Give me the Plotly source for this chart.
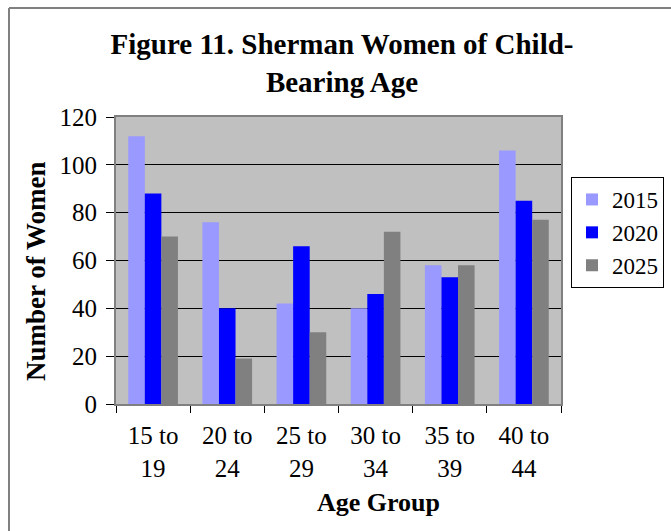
import plotly.graph_objects as go

# Age groups and projected counts of women per group
age_groups = ["15 to 19", "20 to 24", "25 to 29", "30 to 34", "35 to 39", "40 to 44"]
age_labels = ["15 to<br>19", "20 to<br>24", "25 to<br>29", "30 to<br>34", "35 to<br>39", "40 to<br>44"]
women_2015 = [112, 76, 42, 40, 58, 106]
women_2020 = [88, 40, 66, 46, 53, 85]
women_2025 = [70, 19, 30, 72, 58, 77]
y_ticks = [0, 20, 40, 60, 80, 100, 120]

W, H = 671, 531
L, R, T, B = 116, 110, 117, 127
pw, ph = W - L - R, H - T - B

FONT = "Liberation Serif"

def px_x(x):
    return (x - L) / pw

def px_y(y):
    return (H - B - y) / ph

fig = go.Figure()
for name, vals, color in [
    ("2015", women_2015, "#9999FF"),
    ("2020", women_2020, "#0000FF"),
    ("2025", women_2025, "#808080"),
]:
    fig.add_trace(go.Bar(x=age_groups, y=vals, name=name,
                         marker=dict(color=color, line=dict(width=0))))

fig.update_layout(
    width=W, height=H,
    margin=dict(l=L, r=R, t=T, b=B, autoexpand=False),
    paper_bgcolor="white",
    plot_bgcolor="#C0C0C0",
    barmode="group",
    bargap=0.33,
    bargroupgap=0,
    font=dict(family=FONT, color="black", size=24),
    title=dict(
        text="<b>Figure 11. Sherman Women of Child-<br>Bearing Age</b>",
        font=dict(family=FONT, size=29, color="black"),
        x=342 / W, xanchor="center",
        y=1 - 54 / H, yanchor="middle", yref="container",
    ),
    legend=dict(
        x=px_x(571), y=px_y(177), xanchor="left", yanchor="top",
        bordercolor="black", borderwidth=1, bgcolor="white",
        font=dict(family=FONT, size=23, color="black"),
        tracegroupgap=0, itemwidth=30,
    ),
    xaxis=dict(
        tickvals=age_groups, ticktext=age_labels,
        tickson="boundaries", ticks="outside", ticklen=7, tickcolor="black",
        showline=True, linecolor="#808080", linewidth=2, mirror=True,
        showgrid=False,
        tickfont=dict(family=FONT, size=25, color="black"),
        ticklabelstandoff=8,
    ),
    yaxis=dict(
        range=[0, 120], tickvals=y_ticks,
        ticks="outside", ticklen=8, tickcolor="black",
        showline=True, linecolor="#808080", linewidth=2, mirror=True,
        showgrid=True, gridcolor="black", gridwidth=1,
        zeroline=False,
        tickfont=dict(family=FONT, size=25, color="black"),
        ticklabelstandoff=4,
    ),
    annotations=[
        dict(text="<b>Number of Women</b>", textangle=-90,
             x=px_x(36), y=px_y(271), xref="paper", yref="paper",
             xanchor="center", yanchor="middle", showarrow=False,
             font=dict(family=FONT, size=27, color="black")),
        dict(text="<b>Age Group</b>",
             x=px_x(378), y=px_y(502), xref="paper", yref="paper",
             xanchor="center", yanchor="middle", showarrow=False,
             font=dict(family=FONT, size=26, color="black")),
    ],
    shapes=[
        # outer frame (left and top edges)
        dict(type="line", xref="paper", yref="paper",
             x0=px_x(9), x1=px_x(9), y0=px_y(8), y1=px_y(560),
             line=dict(color="#808080", width=2)),
        dict(type="line", xref="paper", yref="paper",
             x0=px_x(9), x1=px_x(700), y0=px_y(8), y1=px_y(8),
             line=dict(color="#808080", width=2)),
    ],
)

fig.write_html("out.html")
